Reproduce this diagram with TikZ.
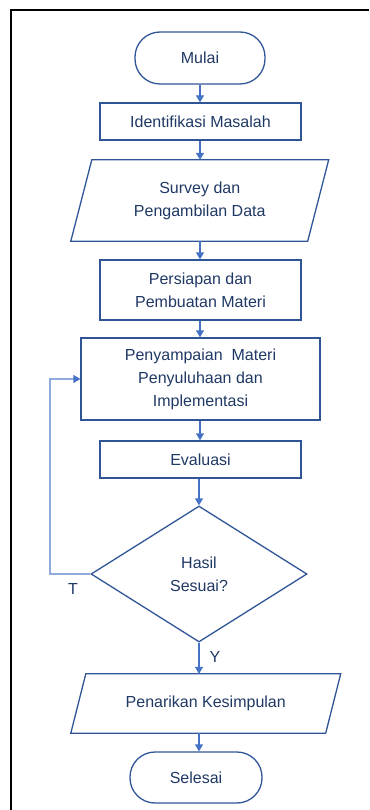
\documentclass[tikz,border=0pt]{standalone}
\usepackage{fontspec}
\setmainfont{Liberation Sans}
\usetikzlibrary{shapes.geometric,arrows.meta}
\definecolor{boxline}{HTML}{2F5597}
\definecolor{txt}{HTML}{1F3864}
\definecolor{arr}{HTML}{4472C4}
\definecolor{loopc}{HTML}{8FAADC}
\begin{document}
\begin{tikzpicture}[x=1pt,y=-1pt,
  every node/.style={font=\fontsize{16}{23}\selectfont, text=txt, align=center, inner sep=0pt},
  term/.style={draw=boxline, line width=1.3pt, rounded corners=25pt, minimum width=130pt, minimum height=52pt},
  proc/.style={draw=boxline, line width=1.3pt, minimum width=201pt},
  iobox/.style={minimum width=#1},
  para/.style={draw=boxline, line width=1.3pt, line join=miter},
  dec/.style={draw=boxline, line width=1.3pt, shape=diamond, aspect=1.59, minimum width=216pt, minimum height=136pt},
  conn/.style={draw=arr, line width=1.3pt, -{Triangle[length=7pt,width=8pt]}},
  loopline/.style={draw=loopc, line width=1.3pt, -{Triangle[length=7pt,width=8pt,color=arr]}},
  lbl/.style={font=\fontsize{16}{19}\selectfont, text=txt}
]
\useasboundingbox (0,0) rectangle (369,810);
\draw[black, line width=2pt] (369,10) -- (11,10) -- (11,810);

\node[term] (mulai) at (200,58) {Mulai};
\node[proc, minimum height=37pt] (ident) at (200.5,121.5) {Identifikasi Masalah};
\node[iobox=236.5pt, minimum height=81pt] (survey) at (199.75,200.5) {Survey dan\\Pengambilan Data};
\draw[para] ([xshift=10.5pt]survey.north west) -- ([xshift=10.5pt]survey.north east) -- ([xshift=-10.5pt]survey.south east) -- ([xshift=-10.5pt]survey.south west) -- cycle;
\node[proc, minimum height=60pt] (persiapan) at (200.5,290) {Persiapan dan\\Pembuatan Materi};
\node[draw=boxline, line width=1.3pt, minimum width=239pt, minimum height=82pt] (penyampaian) at (200.5,379) {Penyampaian\ \ Materi\\Penyuluhaan dan\\Implementasi};
\node[proc, minimum height=37pt] (evaluasi) at (200.5,459.5) {Evaluasi};
\node[dec] (hasil) at (199,574) {Hasil\\Sesuai?};
\node[iobox=254.5pt, minimum height=59pt] (penarikan) at (205.75,703.5) {Penarikan Kesimpulan};
\draw[para] ([xshift=7.5pt]penarikan.north west) -- ([xshift=7.5pt]penarikan.north east) -- ([xshift=-7.5pt]penarikan.south east) -- ([xshift=-7.5pt]penarikan.south west) -- cycle;
\node[term, minimum width=132pt, minimum height=51pt] (selesai) at (196,777.5) {Selesai};

\draw[conn] (mulai.south -| 200,0) -- (ident.north -| 200,0);
\draw[conn] (ident.south -| 200,0) -- (survey.north -| 200,0);
\draw[conn] (survey.south -| 200,0) -- (persiapan.north -| 200,0);
\draw[conn] (persiapan.south -| 200,0) -- (penyampaian.north -| 200,0);
\draw[conn] (penyampaian.south -| 200,0) -- (evaluasi.north -| 200,0);
\draw[conn] (evaluasi.south -| 199,0) -- (hasil.north);
\draw[conn] (hasil.south) -- (penarikan.north -| hasil.south);
\draw[conn] (penarikan.south -| 199,0) -- (selesai.north -| 199,0);

\coordinate (lp) at (50,574);
\draw[loopline] (hasil.west) -- (lp) |- (penyampaian.west);

\node[lbl] (tl) at (73,589) {T};
\node[lbl] (yl) at (215,657) {Y};
\end{tikzpicture}
\end{document}
